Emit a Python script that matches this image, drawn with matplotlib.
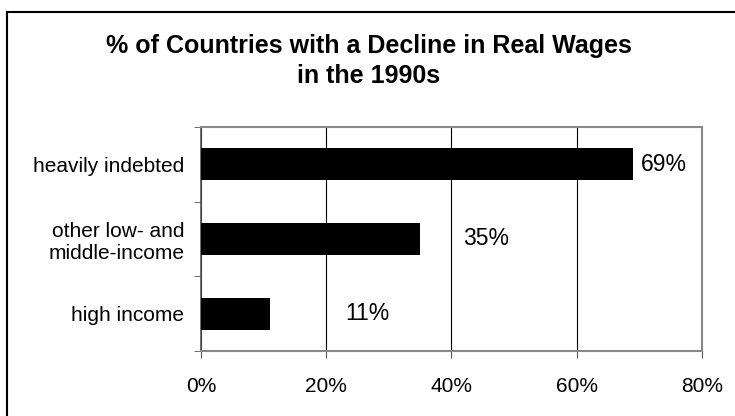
import matplotlib.pyplot as plt
from matplotlib.lines import Line2D

plt.rcParams['font.family'] = ['Liberation Sans', 'DejaVu Sans']

title = "% of Countries with a Decline in Real Wages\nin the 1990s"
groups = ["heavily indebted", "other low- and\nmiddle-income", "high income"]
shares = [69, 35, 11]
# where each value label starts (x, in %)
label_x = [70.3, 41.8, 23.0]
xticks = [0, 20, 40, 60, 80]

fig = plt.figure(figsize=(7.35, 4.16), dpi=100)
ax = fig.add_axes([0.2735, 0.156, 0.6815, 0.539])

ypos = list(range(len(groups)))[::-1]
ax.barh(ypos, shares, height=0.43, color='black', zorder=3)
for y, v, lx in zip(ypos, shares, label_x):
    ax.text(lx, y, "{}%".format(v), va='center', ha='left', fontsize=16.5)

ax.set_xlim(0, 80)
ax.set_ylim(-0.5, len(groups) - 0.5)
ax.set_xticks(xticks)
ax.set_xticklabels(["{}%".format(t) for t in xticks], fontsize=15)
ax.set_yticks(ypos)
ax.set_yticklabels(groups, fontsize=15)
ax.set_yticks([y - 0.5 for y in range(len(groups) + 1)], minor=True)
ax.tick_params(axis='y', which='major', length=0, pad=12)
ax.tick_params(axis='y', which='minor', length=5, direction='out', color='#555555')
ax.tick_params(axis='x', length=5, direction='out', pad=14, color='#555555')
ax.xaxis.grid(True, color='black', linewidth=0.8)
ax.set_axisbelow(True)

for side in ['top', 'right', 'bottom']:
    ax.spines[side].set_color('#888888')
    ax.spines[side].set_linewidth(1.5)
ax.spines['left'].set_color('#555555')
ax.spines['left'].set_linewidth(1.2)

fig.text(0.502, 0.918, title, ha='center', va='top', fontsize=18,
         fontweight='bold', linespacing=1.32)

# outer chart border (left and top edges)
fig.add_artist(Line2D([7 / 735, 7 / 735], [0, 1 - 12 / 416], color='black', lw=1.5))
fig.add_artist(Line2D([7 / 735, 1], [1 - 12 / 416, 1 - 12 / 416], color='black', lw=1.5))

fig.savefig("out.png", dpi=100)
